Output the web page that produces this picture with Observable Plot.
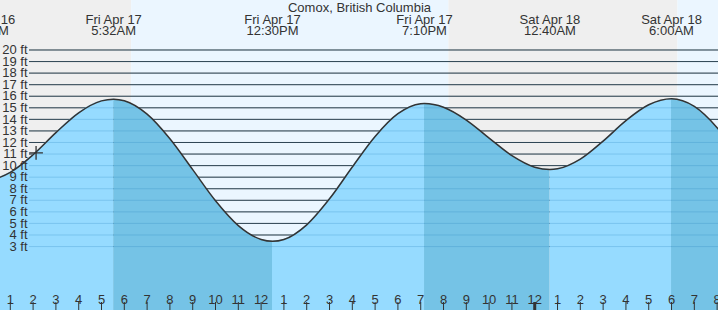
<!DOCTYPE html>
<html><head><meta charset="utf-8">
<script src="https://cdn.jsdelivr.net/npm/d3@7"></script>
<script src="https://cdn.jsdelivr.net/npm/@observablehq/plot@0.6"></script>
<style>body{margin:0;background:#fff}</style>
</head><body><div id="chart"></div>
<script>
const title = "Comox, British Columbia";
// hours since Fri Apr 17 00:00, heights in feet
const hourlyHours = [0,1,2,3,4,5,6,7,8,9,10,11,12,13,14,15,16,17,18,19,20,21,22,23,24,25,26,27,28,29,31,32,33];
const hourlyFeet  = [8.72,9.42,10.94,12.85,14.57,15.60,15.61,14.45,12.32,9.65,6.96,4.81,3.61,3.61,4.88,7.13,9.88,12.52,14.49,15.35,15.05,13.94,12.38,10.86,9.86,9.72,10.56,12.12,13.89,15.26,15.12,13.28,10.62];
const extremeHours = [-0.18, 5.533, 12.5, 19.167, 24.667, 30, 37];
const extremeFeet  = [8.7, 15.75, 3.45, 15.37, 9.66, 15.78, 2.5];
const extremeDates = ["Thu Apr 16","Fri Apr 17","Fri Apr 17","Fri Apr 17","Sat Apr 18","Sat Apr 18"];
const extremeTimes = ["11:49PM","5:32AM","12:30PM","7:10PM","12:40AM","6:00AM"];
const sunHours = [6.32, 20.23, 30.28]; // sunrise, sunset, sunrise
const gridFeet = [3,4,5,6,7,8,9,10,11,12,13,14,15,16,17,18,19,20];
const hourTicks = [1,2,3,4,5,6,7,8,9,10,11,12,13,14,15,16,17,18,19,20,21,22,23,24,25,26,27,28,29,30,31,32];
const nowHour = 2.13, nowFeet = 11.1;
const xDomain = [0.57, 32.06];
const yDomain = [-2.53, 24.28];

const NIGHT = "#efefef", DAY = "#ebf6ff", LIGHT = "#96dbff", DARK = "#75c3e6", INK = "#333";

const pts = hourlyHours.map((h,i)=>({h, ft: hourlyFeet[i]}))
  .concat(extremeHours.map((h,i)=>({h, ft: extremeFeet[i]})))
  .sort((a,b)=>a.h-b.h);
const segs = [];
for (let i = 0; i < extremeHours.length-1; i++) {
  const falling = extremeFeet[i] > extremeFeet[i+1];
  pts.filter(p => p.h >= extremeHours[i] && p.h <= extremeHours[i+1])
     .forEach(p => segs.push({...p, seg: i, falling}));
}
const bands = [
  {x1: xDomain[0], x2: sunHours[0], night: true},
  {x1: sunHours[0], x2: sunHours[1], night: false},
  {x1: sunHours[1], x2: sunHours[2], night: true},
  {x1: sunHours[2], x2: xDomain[1], night: false}
];
const labels = extremeDates.map((d,i)=>({h: extremeHours[i], text: d + "\n" + extremeTimes[i]}));

const chart = Plot.plot({
  width: 718, height: 310,
  margin: 0,
  x: {domain: xDomain, axis: null},
  y: {domain: yDomain, axis: null},
  style: {fontFamily: "'Liberation Sans', Arial, sans-serif", fontSize: "13px", background: "transparent", color: INK},
  marks: [
    Plot.rect(bands.filter(b=>b.night), {x1: "x1", x2: "x2", fill: NIGHT}),
    Plot.rect(bands.filter(b=>!b.night), {x1: "x1", x2: "x2", fill: DAY}),
    Plot.ruleY(gridFeet, {y: d=>d, insetLeft: 29, stroke: INK, strokeWidth: 1}),
    Plot.areaY(segs.filter(d=>!d.falling), {x: "h", y1: yDomain[0], y2: "ft", z: "seg", fill: LIGHT, curve: "monotone-x"}),
    Plot.areaY(segs.filter(d=>d.falling), {x: "h", y1: yDomain[0], y2: "ft", z: "seg", fill: DARK, curve: "monotone-x"}),
    Plot.ruleY(gridFeet, {y: d=>d, insetLeft: 29, stroke: "rgb(40,130,190)", strokeOpacity: 0.25}),
    Plot.line(pts, {x: "h", y: "ft", stroke: INK, strokeWidth: 1.5, curve: "monotone-x"}),
    Plot.text(gridFeet, {y: d=>d, text: d=>`${d} ft`, frameAnchor: "left", textAnchor: "end", dx: 27, fill: INK, fontSize: 13}),
    Plot.text(labels, {x: "h", text: "text", frameAnchor: "top", lineAnchor: "top", dy: 14.5, lineHeight: 0.92, fill: INK, fontSize: 13}),
    Plot.text([title], {text: d=>d, frameAnchor: "top", lineAnchor: "top", dy: 2.5, fill: INK, fontSize: 13}),
    Plot.ruleX(hourTicks.filter(h=>h!==24), {x: d=>d, insetTop: 302, stroke: INK, strokeWidth: 1}),
    Plot.ruleX(hourTicks.filter(h=>h===24), {x: d=>d, insetTop: 302, stroke: INK, strokeWidth: 3}),
    Plot.text(hourTicks, {x: d=>d, text: d=>String(d%12||12), frameAnchor: "bottom", lineAnchor: "bottom", dy: -7, fill: INK, fontSize: 13}),
    Plot.dot([0], {x: nowHour, y: nowFeet, symbol: "plus", r: 4.5, stroke: INK, strokeWidth: 1.3})
  ]
});
document.getElementById("chart").appendChild(chart);
</script>
</body></html>
